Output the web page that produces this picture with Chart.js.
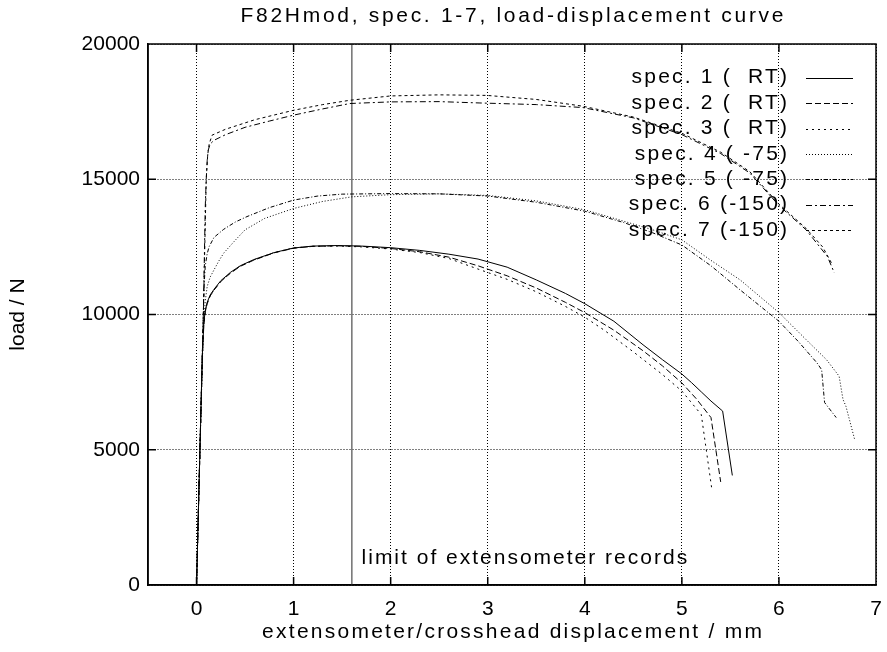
<!DOCTYPE html>
<html><head><meta charset="utf-8">
<script src="https://cdn.jsdelivr.net/npm/chart.js@4.4.1/dist/chart.umd.min.js"></script>
<style>html,body{margin:0;padding:0;background:#fff}</style>
</head><body>
<canvas id="c" width="887" height="652"></canvas>
<script>
// ---- data ----
const spec1X = [0, 0.035, 0.06, 0.075, 0.09, 0.11, 0.14, 0.18, 0.25, 0.35, 0.45, 0.59, 0.8, 1.0, 1.2, 1.45, 1.7, 2.0, 2.3, 2.6, 2.9, 3.2, 3.5, 3.8, 4.0, 4.3, 4.6, 4.8, 5.0, 5.1, 5.2, 5.3, 5.42, 5.52];
const spec1Y = [0, 5000, 8500, 9700, 10150, 10450, 10720, 10930, 11250, 11560, 11800, 12030, 12290, 12460, 12530, 12550, 12530, 12470, 12370, 12230, 12050, 11750, 11280, 10780, 10400, 9750, 8880, 8330, 7800, 7480, 7140, 6800, 6430, 4050];

const spec2X = [0, 0.035, 0.06, 0.075, 0.09, 0.11, 0.14, 0.18, 0.25, 0.35, 0.45, 0.59, 0.8, 1.0, 1.2, 1.45, 1.7, 2.0, 2.3, 2.6, 2.9, 3.2, 3.5, 3.8, 4.0, 4.3, 4.6, 4.8, 5.0, 5.15, 5.3, 5.4];
const spec2Y = [0, 5000, 8400, 9600, 10100, 10400, 10680, 10900, 11220, 11530, 11780, 12010, 12280, 12450, 12520, 12540, 12520, 12440, 12320, 12120, 11800, 11430, 10980, 10450, 10070, 9420, 8660, 8100, 7470, 6880, 6190, 3810];

const spec3X = [0, 0.035, 0.06, 0.075, 0.09, 0.11, 0.14, 0.18, 0.25, 0.35, 0.45, 0.59, 0.8, 1.0, 1.2, 1.45, 1.7, 2.0, 2.3, 2.6, 2.9, 3.2, 3.5, 3.8, 4.0, 4.2, 4.5, 4.8, 5.0, 5.2, 5.31];
const spec3Y = [0, 5000, 8450, 9650, 10120, 10420, 10690, 10910, 11230, 11540, 11790, 12020, 12290, 12460, 12520, 12530, 12500, 12420, 12290, 12070, 11680, 11300, 10840, 10300, 9900, 9420, 8620, 7780, 7170, 6300, 3510];

const spec4X = [0, 0.035, 0.07, 0.09, 0.11, 0.14, 0.18, 0.23, 0.28, 0.4, 0.5, 0.7, 1.0, 1.3, 1.6, 2.0, 2.5, 3.0, 3.5, 4.0, 4.4, 4.7, 5.0, 5.3, 5.6, 6.0, 6.3, 6.49, 6.62, 6.66, 6.69, 6.78];
const spec4Y = [0, 5000, 9500, 10500, 11040, 11380, 11650, 11980, 12270, 12750, 13130, 13550, 13920, 14180, 14350, 14430, 14460, 14400, 14200, 13870, 13450, 13130, 12760, 12000, 11280, 10070, 9000, 8330, 7720, 6860, 6610, 5380];

const spec5X = [0, 0.035, 0.07, 0.08, 0.09, 0.11, 0.13, 0.18, 0.28, 0.4, 0.52, 0.75, 1.0, 1.25, 1.5, 2.0, 2.5, 3.0, 3.5, 4.0, 4.4, 4.7, 5.0, 5.3, 5.6, 6.0, 6.2, 6.39, 6.44, 6.47, 6.51, 6.59];
const spec5Y = [0, 5000, 10000, 11200, 11800, 12250, 12510, 12850, 13150, 13420, 13620, 13950, 14230, 14380, 14450, 14470, 14460, 14380, 14150, 13820, 13400, 13020, 12570, 11800, 10910, 9750, 9000, 8220, 7960, 6750, 6560, 6190];

const spec6X = [0, 0.035, 0.07, 0.09, 0.1, 0.11, 0.12, 0.14, 0.18, 0.3, 0.5, 0.75, 1.0, 1.3, 1.58, 2.0, 2.5, 2.92, 3.5, 3.98, 4.5, 5.0, 5.4, 5.7, 6.0, 6.28, 6.5, 6.57];
const spec6Y = [0, 5000, 10000, 14000, 15000, 15700, 16070, 16300, 16440, 16650, 16920, 17150, 17370, 17600, 17800, 17860, 17870, 17820, 17760, 17650, 17270, 16650, 15950, 15230, 14030, 13130, 12140, 11540];

const spec7X = [0, 0.035, 0.07, 0.1, 0.115, 0.13, 0.16, 0.3, 0.6, 1.0, 1.3, 1.58, 2.0, 2.5, 2.99, 3.5, 3.98, 4.5, 5.0, 5.4, 5.7, 6.0, 6.28, 6.45, 6.55];
const spec7Y = [0, 5000, 10000, 15000, 15900, 16300, 16630, 16850, 17200, 17550, 17760, 17920, 18080, 18120, 18100, 17950, 17700, 17300, 16700, 16000, 15280, 14080, 13180, 12500, 11850];

const seriesLabels = ['spec. 1 (  RT)', 'spec. 2 (  RT)', 'spec. 3 (  RT)', 'spec. 4 ( -75)', 'spec. 5 ( -75)', 'spec. 6 (-150)', 'spec. 7 (-150)'];
const xTickValues = [0, 1, 2, 3, 4, 5, 6, 7];
const yTickValues = [0, 5000, 10000, 15000, 20000];
const extLimit = 1.6;
const extLabel = 'limit of extensometer records';
const extLabelPos = [1.7, 1000];
const titleText = 'F82Hmod, spec. 1-7, load-displacement curve';
const xTitleText = 'extensometer/crosshead displacement / mm';
const yTitleText = 'load / N';

// ---- styles ----
const dashes = [[], [6, 3], [2, 4], [1, 2], [4, 2, 1, 2], [6, 3, 2, 3], [3, 3]];
const FONT = "'Liberation Sans', Arial, Helvetica, sans-serif";
const FS = 21;

const xs = [spec1X, spec2X, spec3X, spec4X, spec5X, spec6X, spec7X];
const ys = [spec1Y, spec2Y, spec3Y, spec4Y, spec5Y, spec6Y, spec7Y];

const datasets = xs.map((X, k) => ({
  label: seriesLabels[k],
  data: X.map((x, i) => ({x: x, y: ys[k][i]})),
  showLine: true,
  borderColor: '#000',
  borderWidth: 1,
  borderDash: dashes[k],
  pointRadius: 0,
  fill: false,
  tension: 0
}));

function spacedText(ctx, text, x, y, spacing, align) {
  ctx.save();
  ctx.textAlign = align;
  if ('letterSpacing' in ctx) {
    ctx.letterSpacing = spacing + 'px';
    let xx = x;
    if (align === 'center') xx = x + spacing / 2;
    else if (align === 'right') xx = x + spacing;
    ctx.fillText(text, xx, y);
  } else {
    ctx.fillText(text, x, y);
  }
  ctx.restore();
}

const framePlugin = {
  id: 'frame',
  beforeDatasetsDraw(chart) {
    const {ctx, chartArea: a, scales: {x, y}} = chart;
    ctx.save();
    const lx = x.getPixelForValue(extLimit);
    ctx.strokeStyle = '#707070';
    ctx.lineWidth = 1.5;
    ctx.beginPath(); ctx.moveTo(lx, a.top); ctx.lineTo(lx, a.bottom); ctx.stroke();
    ctx.fillStyle = '#000';
    ctx.font = FS + 'px ' + FONT;
    ctx.textBaseline = 'middle';
    spacedText(ctx, extLabel, x.getPixelForValue(extLabelPos[0]), y.getPixelForValue(extLabelPos[1]), 2.0, 'left');
    ctx.restore();
  },
  afterDraw(chart) {
    const {ctx, chartArea: a, scales: {x, y}} = chart;
    ctx.save();
    ctx.strokeStyle = '#000';
    ctx.lineWidth = 1.5;
    ctx.strokeRect(a.left, a.top, a.right - a.left, a.bottom - a.top);
    const tl = 8;
    ctx.beginPath();
    xTickValues.forEach(v => {
      const px = x.getPixelForValue(v);
      if (px <= a.left + 1 || px >= a.right - 1) return;
      ctx.moveTo(px, a.bottom); ctx.lineTo(px, a.bottom - tl);
      ctx.moveTo(px, a.top); ctx.lineTo(px, a.top + tl);
    });
    yTickValues.forEach(v => {
      const py = y.getPixelForValue(v);
      if (py <= a.top + 1 || py >= a.bottom - 1) return;
      ctx.moveTo(a.left, py); ctx.lineTo(a.left + tl, py);
      ctx.moveTo(a.right, py); ctx.lineTo(a.right - tl, py);
    });
    ctx.stroke();

    ctx.fillStyle = '#000';
    ctx.font = FS + 'px ' + FONT;
    ctx.textBaseline = 'middle';
    const cx = (a.left + a.right) / 2;
    spacedText(ctx, titleText, cx, 16, 2.7, 'center');
    spacedText(ctx, xTitleText, cx, 632, 2.25, 'center');
    ctx.save();
    ctx.translate(18, (a.top + a.bottom) / 2);
    ctx.rotate(-Math.PI / 2);
    ctx.textAlign = 'center';
    ctx.fillText(yTitleText, 0, 0);
    ctx.restore();

    chart.data.datasets.forEach((ds, i) => {
      const yy = a.top + 33.7 + 25.4 * i;
      spacedText(ctx, ds.label, a.right - 89, yy, 2.2, 'right');
      ctx.save();
      ctx.lineWidth = 1;
      ctx.setLineDash(ds.borderDash);
      ctx.beginPath();
      ctx.moveTo(a.right - 70, Math.round(yy) + 0.5);
      ctx.lineTo(a.right - 23, Math.round(yy) + 0.5);
      ctx.stroke();
      ctx.restore();
    });
    ctx.restore();
  }
};

Chart.defaults.font.family = FONT;
Chart.defaults.font.size = FS;
Chart.defaults.color = '#000';

new Chart(document.getElementById('c'), {
  type: 'scatter',
  data: {datasets},
  plugins: [framePlugin],
  options: {
    responsive: false,
    animation: false,
    devicePixelRatio: 1,
    layout: {padding: {top: 44, right: 11, bottom: 0, left: 0}},
    plugins: {
      legend: {display: false},
      tooltip: {enabled: false},
      title: {display: false}
    },
    scales: {
      x: {
        type: 'linear', min: -0.5, max: 7,
        afterBuildTicks: s => { s.ticks = xTickValues.map(v => ({value: v})); },
        afterFit: s => { s.height = 67; s.paddingRight = 0; s.paddingLeft = 0; },
        ticks: {padding: 12, callback: v => String(v), maxRotation: 0, autoSkip: false},
        grid: {color: '#000', lineWidth: 1, drawTicks: false},
        border: {display: true, color: '#000', width: 1.5, dash: [1, 2]}
      },
      y: {
        type: 'linear', min: 0, max: 20000,
        afterBuildTicks: s => { s.ticks = yTickValues.map(v => ({value: v})); },
        afterFit: s => { s.width = 148; s.paddingTop = 0; s.paddingBottom = 0; },
        ticks: {padding: 8, callback: v => String(v), autoSkip: false},
        grid: {color: '#000', lineWidth: 1, drawTicks: false},
        border: {display: true, color: '#000', width: 1.5, dash: [1, 2]}
      }
    }
  }
});
</script>
</body></html>
